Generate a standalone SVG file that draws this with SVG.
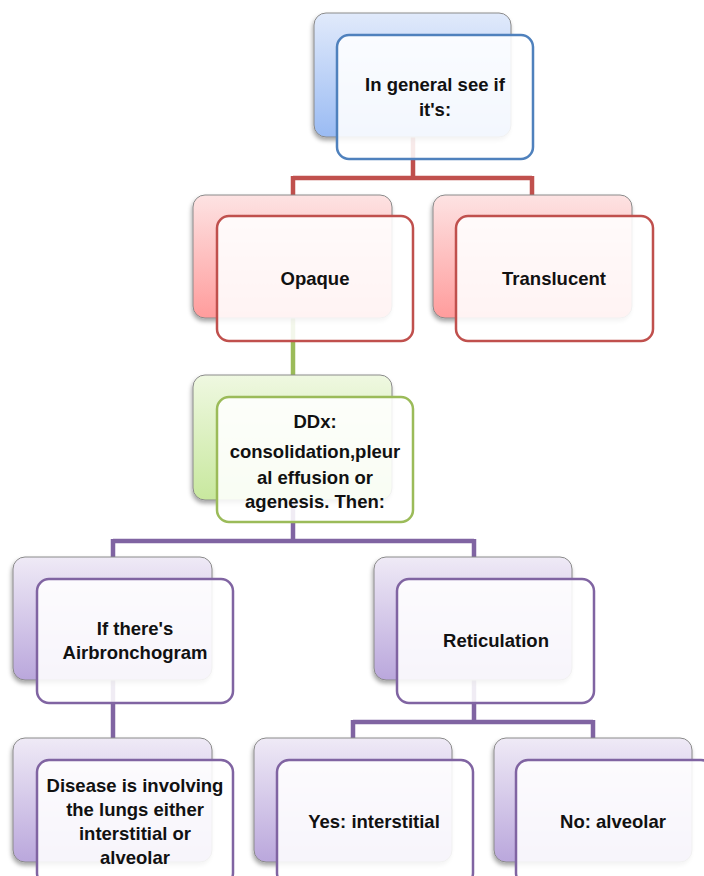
<svg xmlns="http://www.w3.org/2000/svg" width="704" height="876" viewBox="0 0 704 876">
<defs>
<linearGradient id="gBlue" x1="0" y1="0" x2="0" y2="1"><stop offset="0" stop-color="#e1eafb"/><stop offset="1" stop-color="#9abbf3"/></linearGradient>
<linearGradient id="gRed" x1="0" y1="0" x2="0" y2="1"><stop offset="0" stop-color="#fde3e3"/><stop offset="1" stop-color="#ff9c9c"/></linearGradient>
<linearGradient id="gGreen" x1="0" y1="0" x2="0" y2="1"><stop offset="0" stop-color="#eff8e1"/><stop offset="1" stop-color="#c8e89e"/></linearGradient>
<linearGradient id="gPurple" x1="0" y1="0" x2="0" y2="1"><stop offset="0" stop-color="#efeaf6"/><stop offset="1" stop-color="#baa7dc"/></linearGradient>
<filter id="sh" x="-10%" y="-10%" width="120%" height="125%"><feDropShadow dx="-1" dy="3" stdDeviation="2" flood-color="#000" flood-opacity="0.35"/></filter>
</defs>
<style>
.back{stroke:#8a8a8a;stroke-width:1;filter:url(#sh)}
.front{fill:#ffffff;fill-opacity:0.88;stroke-width:2.5}
.blue{stroke:#4f81bd}
.red{stroke:#c0504d}
.green{stroke:#9bbb59}
.purple{stroke:#8064a2}
.conn{fill:none;stroke-width:4.5}
text{font-family:"Liberation Sans",Arial,sans-serif;font-weight:bold;font-size:18.5px;fill:#111;text-anchor:middle}
</style>
<g id="connectors">
<path class="conn red" d="M413 137 V178 M293 178 H532 M293 176 V195 M532 176 V195"/>
<path class="conn green" d="M293 318 V376"/>
<path class="conn purple" d="M293 500 V541 M113 541 H474 M113 539 V557 M474 539 V557"/>
<path class="conn purple" d="M113 680 V738"/>
<path class="conn purple" d="M474 680 V722 M353 722 H593 M353 720 V738 M593 720 V738"/>
</g>
<g id="node-general">
<rect class="back" x="314" y="13" width="197" height="124" rx="12" fill="url(#gBlue)"/>
<rect class="front blue" x="337" y="35" width="196" height="124" rx="12"/>
<text x="435" y="91">In general see if</text>
<text x="435" y="116">it's:</text>
</g>
<g id="node-opaque">
<rect class="back" x="193" y="195" width="199" height="123" rx="12" fill="url(#gRed)"/>
<rect class="front red" x="217" y="216" width="196" height="125" rx="12"/>
<text x="315" y="285">Opaque</text>
</g>
<g id="node-translucent">
<rect class="back" x="433" y="195" width="199" height="123" rx="12" fill="url(#gRed)"/>
<rect class="front red" x="456" y="216" width="197" height="125" rx="12"/>
<text x="554" y="285">Translucent</text>
</g>
<g id="node-ddx">
<rect class="back" x="193" y="375" width="199" height="125" rx="12" fill="url(#gGreen)"/>
<rect class="front green" x="217" y="397" width="196" height="125" rx="12"/>
<text x="315" y="428">DDx:</text>
<text x="315" y="458">consolidation,pleur</text>
<text x="315" y="484">al effusion or</text>
<text x="315" y="508">agenesis. Then:</text>
</g>
<g id="node-airbronchogram">
<rect class="back" x="13" y="557" width="199" height="123" rx="12" fill="url(#gPurple)"/>
<rect class="front purple" x="37" y="579" width="196" height="124" rx="12"/>
<text x="135" y="635">If there's</text>
<text x="135" y="659">Airbronchogram</text>
</g>
<g id="node-reticulation">
<rect class="back" x="374" y="557" width="198" height="123" rx="12" fill="url(#gPurple)"/>
<rect class="front purple" x="397" y="579" width="197" height="124" rx="12"/>
<text x="496" y="647">Reticulation</text>
</g>
<g id="node-disease">
<rect class="back" x="13" y="738" width="199" height="124" rx="12" fill="url(#gPurple)"/>
<rect class="front purple" x="37" y="760" width="196" height="125" rx="12"/>
<text x="135" y="792">Disease is involving</text>
<text x="135" y="816">the lungs either</text>
<text x="135" y="840">interstitial or</text>
<text x="135" y="864">alveolar</text>
</g>
<g id="node-yes">
<rect class="back" x="254" y="738" width="198" height="124" rx="12" fill="url(#gPurple)"/>
<rect class="front purple" x="277" y="760" width="196" height="125" rx="12"/>
<text x="374" y="828">Yes: interstitial</text>
</g>
<g id="node-no">
<rect class="back" x="494" y="738" width="198" height="124" rx="12" fill="url(#gPurple)"/>
<rect class="front purple" x="516" y="760" width="197" height="125" rx="12"/>
<text x="613" y="828">No: alveolar</text>
</g>
</svg>
